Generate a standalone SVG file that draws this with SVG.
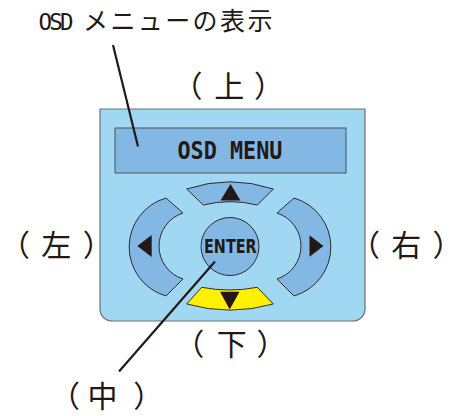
<svg xmlns="http://www.w3.org/2000/svg" width="462" height="416" viewBox="0 0 462 416">
<style>
.lbl{font-family:"Noto Sans CJK JP","Noto Sans CJK SC",sans-serif;font-size:30px;fill:#231815;text-anchor:middle}
.btn{fill:#84b8e4;stroke:#231815;stroke-width:0.9}
.tri{fill:#231815}
.lead{stroke:#231815;stroke-width:2.2;fill:none}
</style>
<rect width="462" height="416" fill="#ffffff"/>
<g id="panel">
<path d="M100,109 H365 V309 A12,12 0 0 1 353,321 H112 A12,12 0 0 1 100,309 Z" fill="#a0d8f4" stroke="#707070" stroke-width="1.2"/>
</g>
<g id="screen">
<rect x="115" y="128" width="231" height="45" fill="#84b8e4" stroke="#505050" stroke-width="1"/>
<text x="230" y="159.3" font-family="DejaVu Sans Mono, monospace" font-weight="bold" font-size="25.5" fill="#231815" text-anchor="middle" textLength="105" lengthAdjust="spacingAndGlyphs">OSD MENU</text>
</g>
<g id="btn-up">
<path class="btn" d="M186.7,189 A137,137 0 0 1 273.3,189 L257.3,205 A112,112 0 0 0 203.3,205 Z"/>
<polygon class="tri" points="230.5,184 220.5,200.5 240.5,200.5"/>
</g>
<g id="btn-down">
<path d="M201.7,287.3 A145,145 0 0 0 257.3,287.3 L273.3,304 A159,159 0 0 1 186.7,304 Z" fill="#fff100" stroke="#231815" stroke-width="0.9"/>
<polygon class="tri" points="220,291.7 239.5,291.7 229.7,309.5"/>
</g>
<g id="btn-left">
<path class="btn" d="M166,198 A51,51 0 0 0 166,296 L183,279 A34.7,34.7 0 0 1 183,213 Z"/>
<polygon class="tri" points="137.3,246 151.7,235 151.7,257"/>
</g>
<g id="btn-right">
<path class="btn" d="M294,198 A51,51 0 0 1 294,296 L277,279 A34.7,34.7 0 0 0 277,213 Z"/>
<polygon class="tri" points="323.5,246 309.5,235.3 309.5,256.7"/>
</g>
<g id="btn-enter">
<circle class="btn" cx="230" cy="246.5" r="29"/>
<text x="230.3" y="252.7" font-family="DejaVu Sans, sans-serif" font-weight="bold" font-size="19.7" fill="#231815" text-anchor="middle" textLength="52.5" lengthAdjust="spacingAndGlyphs">ENTER</text>
</g>
<g id="connectors">
<line class="lead" x1="113" y1="45" x2="138" y2="146.5"/>
<line class="lead" x1="215" y1="261.5" x2="119" y2="371.5"/>
</g>
<g id="label-osd">
<text y="29.8" fill="#231815"><tspan x="38.5" font-family="DejaVu Sans Mono, monospace" font-size="22.5" letter-spacing="-2.8">OSD </tspan><tspan x="83" font-family="Noto Sans CJK JP, sans-serif" font-size="25" letter-spacing="2.4">メニューの表示</tspan></text>
</g>
<g id="label-up"><text class="lbl" x="187.6 229.3 269.1" y="97.3">（上）</text></g>
<g id="label-left"><text class="lbl" x="15.1 56.2 97.8" y="256.4">（左）</text></g>
<g id="label-right"><text class="lbl" x="365.1 406.2 447.4" y="256.4">（右）</text></g>
<g id="label-down"><text class="lbl" x="189.2 231.7 271.6" y="355.4">（下）</text></g>
<g id="label-center"><text class="lbl" x="65.1 102.5 148.3" y="407.4">（中）</text></g>
</svg>
